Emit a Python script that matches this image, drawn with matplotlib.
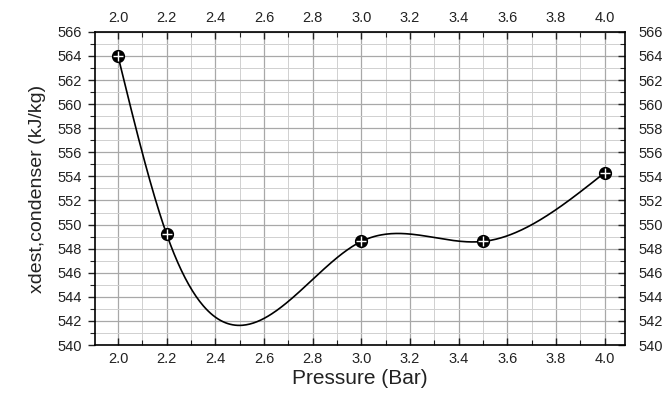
import numpy as np
import matplotlib
matplotlib.use("Agg")
import matplotlib.pyplot as plt
from matplotlib.lines import TICKLEFT
from matplotlib.ticker import MultipleLocator

plt.rcParams["font.family"] = ["Liberation Sans", "DejaVu Sans"]

pressure = [2.0, 2.2, 3.0, 3.5, 4.0]
xdest = [564.0, 549.2, 548.6, 548.6, 554.3]


def natural_spline(x, y, n=400):
    """Natural cubic spline through (x, y), sampled on n points."""
    x = np.asarray(x, float); y = np.asarray(y, float)
    k = len(x); h = np.diff(x)
    A = np.zeros((k, k)); b = np.zeros(k)
    A[0, 0] = A[-1, -1] = 1
    for i in range(1, k - 1):
        A[i, i - 1] = h[i - 1]; A[i, i] = 2 * (h[i - 1] + h[i]); A[i, i + 1] = h[i]
        b[i] = 3 * ((y[i + 1] - y[i]) / h[i] - (y[i] - y[i - 1]) / h[i - 1])
    c = np.linalg.solve(A, b)
    xs = np.linspace(x[0], x[-1], n)
    idx = np.clip(np.searchsorted(x, xs) - 1, 0, k - 2)
    dx = xs - x[idx]
    bb = (y[1:] - y[:-1]) / h - h * (2 * c[:-1] + c[1:]) / 3
    d = (c[1:] - c[:-1]) / (3 * h)
    ys = y[idx] + bb[idx] * dx + c[idx] * dx ** 2 + d[idx] * dx ** 3
    return xs, ys


fig = plt.figure(figsize=(6.68, 3.93), dpi=100)
ax = fig.add_axes([0.142, 0.122, 0.794, 0.797])

xs, ys = natural_spline(pressure, xdest)
ax.plot(xs, ys, color="black", lw=1.2, zorder=3)
ax.plot(pressure, xdest, "o", color="black", ms=8.5, zorder=4)
ax.plot(pressure, xdest, "+", color="white", ms=6.5, mew=1.0, zorder=5)

ax.set_xlim(1.905, 4.085)
ax.set_ylim(540, 566)
ax.xaxis.set_major_locator(MultipleLocator(0.2))
ax.xaxis.set_minor_locator(MultipleLocator(0.1))
ax.yaxis.set_major_locator(MultipleLocator(2))
ax.yaxis.set_minor_locator(MultipleLocator(1))
ax.xaxis.set_major_formatter(lambda v, p: f"{v:.1f}")

ax.grid(True, which="major", color="#a8a8a8", lw=0.9)
ax.grid(True, which="minor", color="#d0d0d0", lw=0.7)
ax.set_axisbelow(True)

ax.tick_params(which="both", direction="in", top=True, right=True,
               labeltop=True, labelright=True, labelsize=10.5, colors="#222222")
ax.tick_params(axis="x", which="both", pad=5)
ax.tick_params(axis="y", which="both", pad=9.5)
ax.tick_params(which="major", length=5, width=1)
ax.tick_params(which="minor", length=3.5, width=0.8)
# left-hand ticks point outward, the others stay inward
for t in ax.yaxis.get_major_ticks() + ax.yaxis.get_minor_ticks():
    t.tick1line.set_marker(TICKLEFT)
for s in ax.spines.values():
    s.set_linewidth(1.2)

ax.set_xlabel("Pressure (Bar)", fontsize=15, color="#222222", labelpad=2)
ax.set_ylabel("xdest,condenser (kJ/kg)", fontsize=14, color="#222222", labelpad=8)

fig.savefig("out.png", dpi=100)
